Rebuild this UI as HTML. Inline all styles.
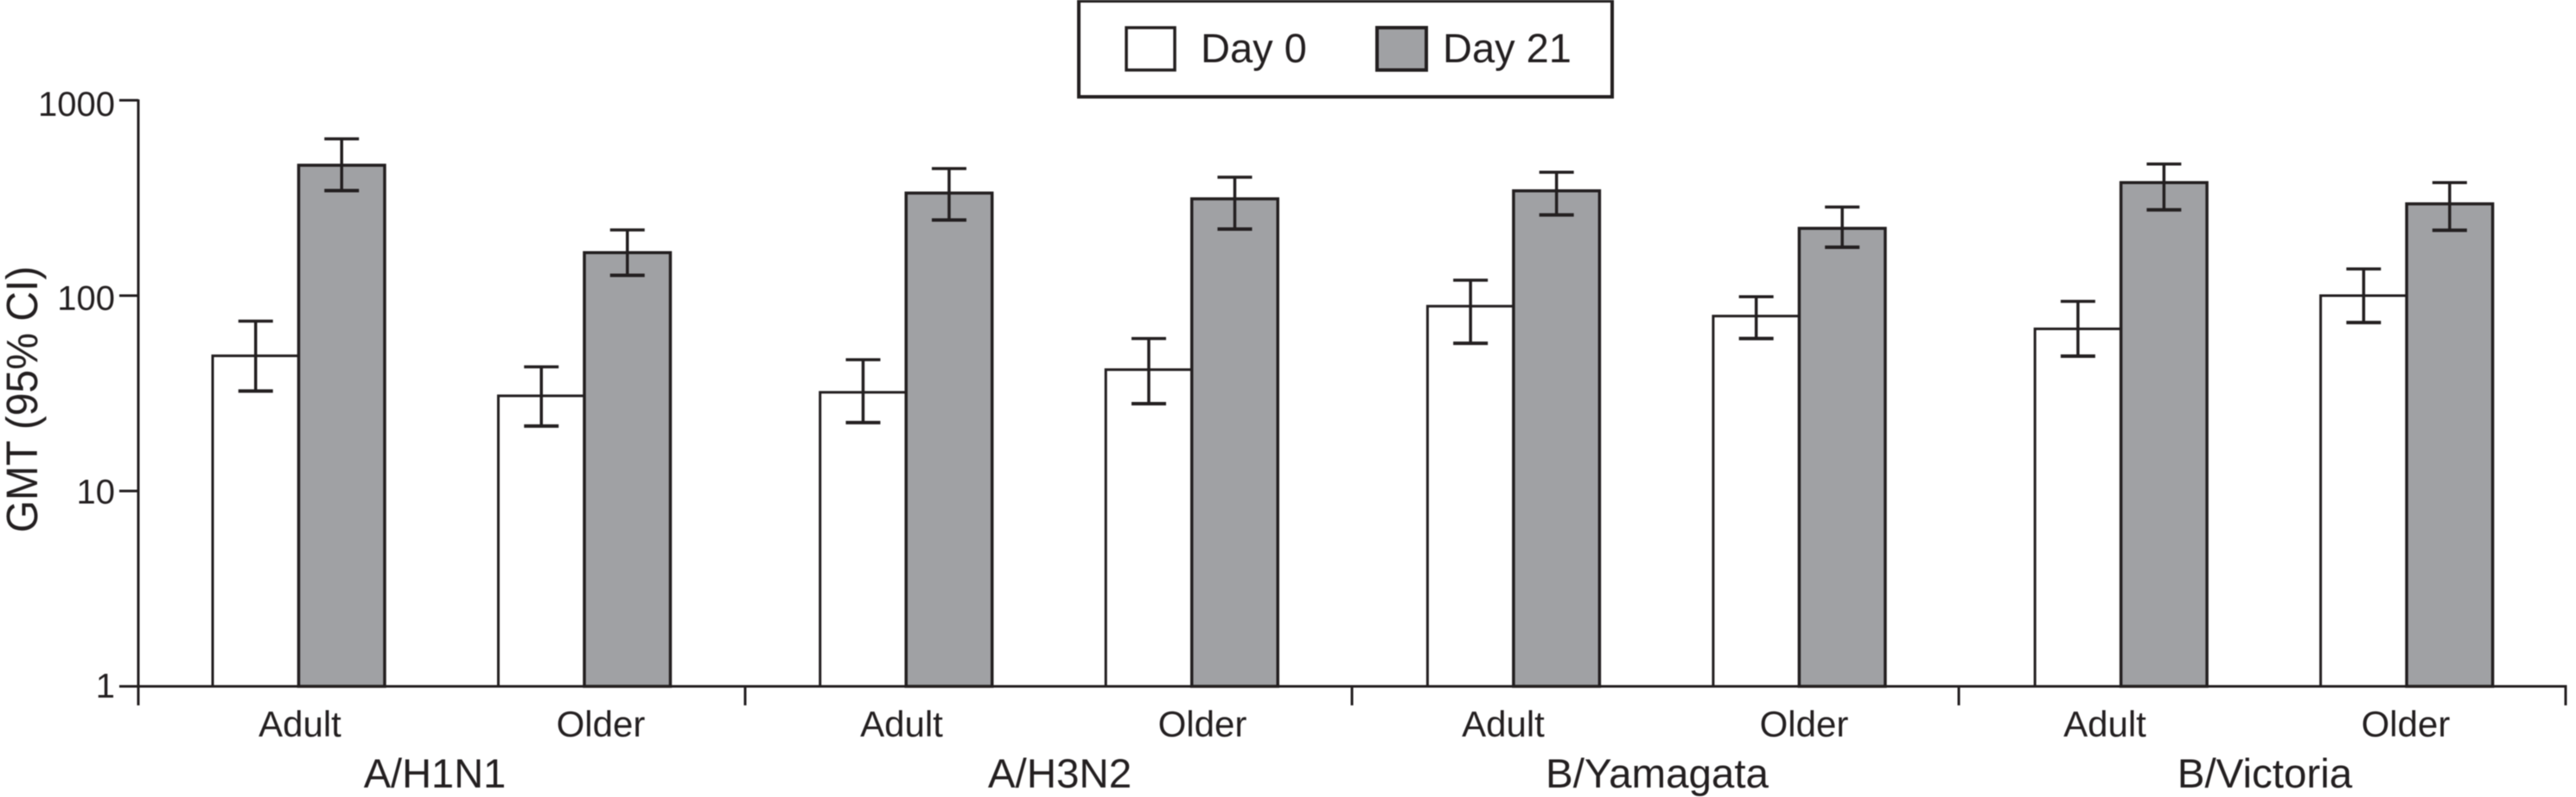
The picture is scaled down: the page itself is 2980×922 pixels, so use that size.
<!DOCTYPE html>
<html lang="en">
<head>
<meta charset="utf-8">
<title>GMT by strain and age group</title>
<style>
  html, body { margin: 0; padding: 0; background: #ffffff; }
  body { width: 2980px; height: 922px; overflow: hidden; }
  svg { display: block; filter: blur(0.5px); }
  text { font-family: "Liberation Sans", sans-serif; fill: #231f20; }
</style>
</head>
<body>
<svg id="chart" xmlns="http://www.w3.org/2000/svg" width="2980" height="922" viewBox="0 0 2980 922">
  <rect x="0" y="0" width="2980" height="922" fill="#ffffff"/>

  <g>
    <rect x="1248" y="1" width="617" height="111" fill="#ffffff" stroke="#231f20" stroke-width="4"/>
    <rect x="1303" y="32" width="56" height="49" fill="#ffffff" stroke="#231f20" stroke-width="3.5"/>
    <text x="1389" y="72" font-size="47">Day 0</text>
    <rect x="1593" y="32" width="57" height="49" fill="#a0a1a4" stroke="#231f20" stroke-width="4"/>
    <text x="1669" y="72" font-size="47">Day 21</text>
  </g>

  <text transform="translate(43,462) rotate(-90) scale(1,1.07)" text-anchor="middle" font-size="48">GMT (95% CI)</text>

  <g id="bars"></g>
  <g id="errors"></g>
  <g id="axes"></g>
  <g id="tick-labels"></g>

  <g>
    <text x="503" y="911" text-anchor="middle" font-size="47">A/H1N1</text>
    <text x="1226" y="911" text-anchor="middle" font-size="47.5">A/H3N2</text>
    <text x="1917" y="911" text-anchor="middle" font-size="47.5">B/Yamagata</text>
    <text x="2620" y="911" text-anchor="middle" font-size="47.5">B/Victoria</text>
  </g>
</svg>

<script>
const strains = ['A/H1N1', 'A/H3N2', 'B/Yamagata', 'B/Victoria'];
const ageGroups = ['Adult', 'Older'];
const yTicks = [1, 10, 100, 1000];

const day0Gmt   = [49.2, 30.7, 32,  41.8, 88.3, 78.6, 67.6, 100];
const day0Upper = [74,   43.2, 47,  60.3, 120,  98.7, 93.5, 137];
const day0Lower = [32.5, 21.5, 22.4, 28,  57,   60.3, 49,   72.8];

const day21Gmt   = [465, 166, 335, 313, 344, 221, 379, 295];
const day21Upper = [635, 217, 447, 404, 428, 284, 472, 379];
const day21Lower = [345, 127, 244, 219, 259, 177, 275, 216];

const SVG_NS = 'http://www.w3.org/2000/svg';
const INK = '#231f20';
const GREY = '#a0a1a4';
const BASE_Y = 794;
const DECADE = 226;
const AXIS_X = 160;
const GROUP_W = 702;
const BAR_W = 99.5;
const CAP_HALF = 20;

function yScale(v) { return BASE_Y - DECADE * Math.log10(v); }
function groupStart(g) { return AXIS_X + g * GROUP_W; }
function pairLeft(i) {
  const g = Math.floor(i / 2);
  const a = i % 2;
  return groupStart(g) + 86 + g * 0.7 + a * 330.5;
}

function make(tag, parent, attrs) {
  const el = document.createElementNS(SVG_NS, tag);
  for (const k in attrs) el.setAttribute(k, attrs[k]);
  parent.appendChild(el);
  return el;
}

const barsLayer = document.getElementById('bars');
const errorsLayer = document.getElementById('errors');
const axesLayer = document.getElementById('axes');
const labelsLayer = document.getElementById('tick-labels');

function drawBar(left, value, fill, width, name) {
  const top = yScale(value);
  const el = make('rect', barsLayer, { x: left, y: top, width: BAR_W, height: BASE_Y - top, fill: fill, stroke: INK, 'stroke-width': width });
  
  
}

function drawError(cx, hi, lo, name) {
  const g = make('g', errorsLayer, { stroke: INK, fill: 'none' });
  
  
  make('line', g, { x1: cx, x2: cx, y1: yScale(hi), y2: yScale(lo), 'stroke-width': 3.5 });
  make('line', g, { x1: cx - CAP_HALF, x2: cx + CAP_HALF, y1: yScale(hi), y2: yScale(hi), 'stroke-width': 3.5 });
  make('line', g, { x1: cx - CAP_HALF, x2: cx + CAP_HALF, y1: yScale(lo), y2: yScale(lo), 'stroke-width': 4 });
}

day0Gmt.forEach(function (v, i) {
  const left = pairLeft(i);
  const key = strains[Math.floor(i / 2)].replace('/', '-').toLowerCase() + '-' + ageGroups[i % 2].toLowerCase();
  drawBar(left, v, '#ffffff', 3, 'bar-' + key + '-day-0');
  drawBar(left + BAR_W, day21Gmt[i], GREY, 3.5, 'bar-' + key + '-day-21');
  drawError(left + BAR_W / 2, day0Upper[i], day0Lower[i], 'error-bar-' + key + '-day-0');
  drawError(left + BAR_W * 1.5, day21Upper[i], day21Lower[i], 'error-bar-' + key + '-day-21');
});

const yAxisLine = make('line', axesLayer, { x1: AXIS_X, x2: AXIS_X, y1: yScale(1000) - 1, y2: 816, stroke: INK, 'stroke-width': 3 });



const xAxisLine = make('line', axesLayer, { x1: 138, x2: groupStart(strains.length) + 1.5, y1: BASE_Y, y2: BASE_Y, stroke: INK, 'stroke-width': 3 });



yTicks.forEach(function (t) {
  const tick = make('line', axesLayer, { x1: 138, x2: AXIS_X, y1: yScale(t), y2: yScale(t), stroke: INK, 'stroke-width': 3 });
  
  

  const label = make('text', labelsLayer, { x: 133, y: 807 - 224.3 * Math.log10(t), 'text-anchor': 'end', 'font-size': 40 });
  label.textContent = String(t);
  
  
});

for (let g = 0; g <= strains.length; g++) {
  const tick = make('line', axesLayer, { x1: groupStart(g), x2: groupStart(g), y1: BASE_Y, y2: 816, stroke: INK, 'stroke-width': 3 });
  
  
}

strains.forEach(function (s, g) {
  ageGroups.forEach(function (age, a) {
    const label = make('text', labelsLayer, { x: 347 + 696 * g + 348 * a, y: 852, 'text-anchor': 'middle', 'font-size': 42 });
    label.textContent = age;
    
    
  });
});
</script>
</body>
</html>
